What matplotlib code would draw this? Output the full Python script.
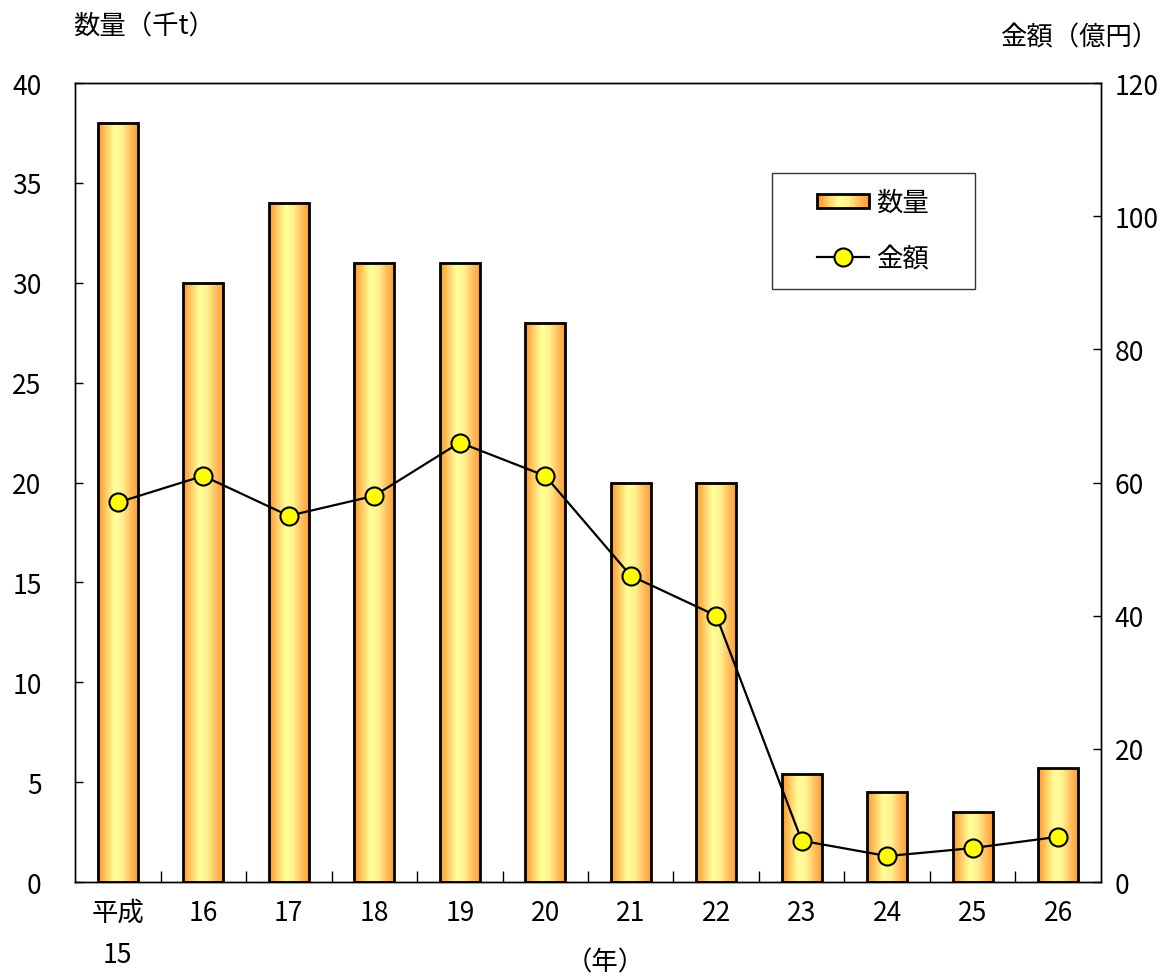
import matplotlib
matplotlib.use("Agg")
import matplotlib.pyplot as plt
import numpy as np
from matplotlib.colors import LinearSegmentedColormap
from matplotlib.patches import Rectangle
from matplotlib.lines import Line2D
from matplotlib.legend_handler import HandlerBase

plt.rcParams['font.family'] = ['Noto Sans CJK JP', 'DejaVu Sans']

years = ["平成\n15", "16", "17", "18", "19", "20", "21", "22", "23", "24", "25", "26"]
quantity = [38, 30, 34, 31, 31, 28, 20, 20, 5.4, 4.5, 3.5, 5.7]   # 千t
amount = [57, 61, 55, 58, 66, 61, 46, 40, 6.2, 3.9, 5.1, 6.8]      # 億円

FS = 19
grad = LinearSegmentedColormap.from_list(
    "bar", ["#FF9628", "#FFCC66", "#FFFF99", "#FFF090", "#FFC060", "#FF9A30"])
gimg = np.linspace(0, 1, 128).reshape(1, -1)
HANDLE_W = 37.4   # points actually drawn inside the handle box


class GradientHandler(HandlerBase):
    def create_artists(self, legend, orig_handle, xdescent, ydescent,
                       width, height, fontsize, trans):
        arts = []
        n = 30
        h = height * 0.8
        x0 = -xdescent + width - HANDLE_W
        y0 = -ydescent + (height - h) / 2
        for i in range(n):
            arts.append(Rectangle((x0 + HANDLE_W * i / n, y0), HANDLE_W / n + 0.3, h,
                                  facecolor=grad(i / (n - 1)), edgecolor="none",
                                  transform=trans))
        arts.append(Rectangle((x0, y0), HANDLE_W, h, facecolor="none",
                              edgecolor="black", linewidth=2, transform=trans))
        return arts


class LineHandler(HandlerBase):
    def create_artists(self, legend, orig_handle, xdescent, ydescent,
                       width, height, fontsize, trans):
        x0 = -xdescent + width - HANDLE_W
        yc = -ydescent + height / 2
        ln = Line2D([x0, x0 + HANDLE_W], [yc, yc], color="black", linewidth=1.6,
                    transform=trans)
        mk = Line2D([x0 + HANDLE_W / 2], [yc], marker="o", markersize=13,
                    markerfacecolor="#FFFF00", markeredgecolor="black",
                    markeredgewidth=1.5, linestyle="none", transform=trans)
        return [ln, mk]


fig = plt.figure(figsize=(11.74, 9.78), dpi=100)
ax = fig.add_axes([0.0639, 0.0971, 0.8739, 0.817])
ax2 = ax.twinx()

x = np.arange(len(years))
bw = 0.47
for xi, q in zip(x, quantity):
    ax.imshow(gimg, cmap=grad, aspect="auto", extent=(xi - bw / 2, xi + bw / 2, 0, q),
              zorder=2, interpolation="bilinear")
    ax.add_patch(Rectangle((xi - bw / 2, 0), bw, q, facecolor="none",
                           edgecolor="black", linewidth=2, zorder=3))

line, = ax2.plot(x, amount, color="black", linewidth=1.6, marker="o", markersize=13,
                 markerfacecolor="#FFFF00", markeredgecolor="black",
                 markeredgewidth=1.5, zorder=5)

ax.set_xlim(-0.5, len(years) - 0.5)
ax.set_ylim(0, 40)
ax2.set_ylim(0, 120)
ax.set_yticks(range(0, 41, 5))
ax2.set_yticks(range(0, 121, 20))
ax.set_xticks(x)
ax.set_xticklabels(years, linespacing=1.75, va="top")
ax.set_xticks(x[:-1] + 0.5, minor=True)

ax.tick_params(axis="x", which="major", length=0, pad=12, labelsize=FS)
ax.tick_params(axis="x", which="minor", direction="in", length=8, width=1)
ax.tick_params(axis="y", direction="in", length=6, width=1, pad=24, labelsize=FS)
ax2.tick_params(axis="y", direction="in", length=6, width=1, pad=10, labelsize=FS)
for sp in list(ax.spines.values()) + list(ax2.spines.values()):
    sp.set_linewidth(1)

fig.text(73 / 1174, 1 - 27 / 978, "数量（千t）", fontsize=FS, ha="left", va="center")
fig.text(1158 / 1174, 1 - 38 / 978, "金額（億円）", fontsize=FS, ha="right", va="center")
fig.text(605 / 1174, 1 - 963 / 978, "（年）", fontsize=FS, ha="center", va="center")

bar_handle = Rectangle((0, 0), 1, 1)
leg = ax2.legend([bar_handle, line], ["数量", "金額"],
                 handler_map={Rectangle: GradientHandler(), Line2D: LineHandler()},
                 loc="upper left", bbox_to_anchor=(0.679, 0.887, 0.198, 0.0),
                 mode="expand", fontsize=FS, frameon=True, fancybox=False,
                 edgecolor="black", borderpad=0.6, labelspacing=1.12,
                 handlelength=3.1, handletextpad=0.25, borderaxespad=0)
leg.get_frame().set_linewidth(1)
leg.set_zorder(10)

fig.savefig("out.png", dpi=100)
